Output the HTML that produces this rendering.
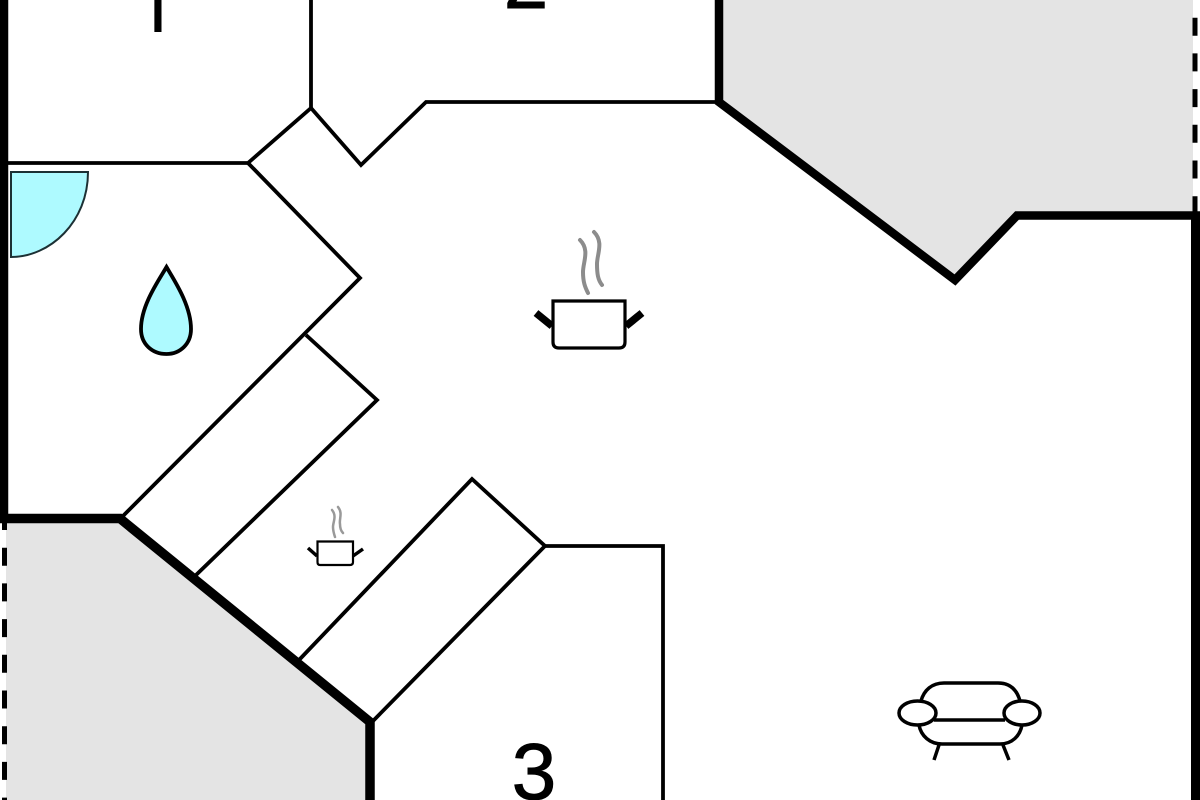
<!DOCTYPE html>
<html>
<head>
<meta charset="utf-8">
<style>
html,body{margin:0;padding:0;background:#fff;width:1200px;height:800px;overflow:hidden}
svg{display:block}
text{font-family:"Liberation Sans",sans-serif;font-size:80px;fill:#000;stroke:#000;stroke-width:1;text-anchor:middle}
</style>
</head>
<body>
<svg width="1200" height="800" viewBox="0 0 1200 800" xmlns="http://www.w3.org/2000/svg">
<rect width="1200" height="800" fill="#fff"/>
<polygon points="719,0 1193,0 1193,215 1017,215 955,280 719,102" fill="#e4e4e4"/>
<polygon points="6,520 120,520 370,722 370,800 6,800" fill="#e4e4e4"/>

<g fill="none" stroke="#000" stroke-width="3.800" stroke-linejoin="miter">
<polyline points="311,0 311,108 248,163 8,163"/>
<polyline points="248,163 360,278 121,518"/>
<polyline points="306,335 377,400 195,576"/>
<polyline points="311,108 361,165 426,102 719,102"/>
<polyline points="299,660 472,479 545,546 372,722"/>
<polyline points="545,546 663,546 663,800"/>
</g>

<g fill="none" stroke="#000" stroke-linejoin="miter">
<path d="M4,0V523" stroke-width="8.500"/>
<path d="M0,518.500H120L370,722V800" stroke-width="9.500"/>
<path d="M719,0V102L955,280L1017,215.500H1200" stroke-width="8.500"/>
<path d="M1195.500,212V800" stroke-width="9"/>
<path d="M4.500,512V800" stroke-width="5" stroke-dasharray="18 17.700"/>
<path d="M1195,-18V212" stroke-width="5" stroke-dasharray="18 17.700"/>
</g>

<path d="M11,172H88C88,222 50,257 11,257Z" fill="#aefaff" stroke="#1c3034" stroke-width="2"/>
<path d="M166.500,267C174,280 191,305 191,329C191,344 180,354 166.500,354C152,354 141,344 141,329C141,305 159,280 166.500,267Z" fill="#aefaff" stroke="#000" stroke-width="3.800"/>

<g fill="none" stroke="#000">
<path d="M553,301H625V342Q625,348 619,348H559Q553,348 553,342Z" fill="#fff" stroke-width="3.200"/>
<path d="M552,326L536,313M626,326L642,313" stroke-width="7.500"/>
</g>
<g fill="none" stroke="#8c8c8c" stroke-width="4" stroke-linecap="round">
<path d="M580,240C590,250 583,262 583,272C583,282 585,287 588,293"/>
<path d="M594,232C604,242 597,254 597,264C597,274 598,280 602,285"/>
</g>

<g fill="none" stroke="#000">
<path d="M317.500,541.500H353V562Q353,565 350,565H320Q317.500,565 317.500,562Z" fill="#fff" stroke-width="2.200"/>
<path d="M317,556L308,548M353,556L363,549" stroke-width="3.500"/>
</g>
<g fill="none" stroke="#999" stroke-width="2.500" stroke-linecap="round">
<path d="M332,510C337,516 333,522 333,527C333,531 334,534 335,537"/>
<path d="M338,507C343,513 339,519 340,524C340,528 341,531 343,533"/>
</g>

<g fill="none" stroke="#000" stroke-width="3.500">
<path d="M921,701C924,690 932,683 944,683H998C1010,683 1017,690 1020,701"/>
<ellipse cx="917.500" cy="713" rx="18.500" ry="12"/>
<ellipse cx="1022" cy="713" rx="18" ry="12"/>
<path d="M934,720H1005"/>
<path d="M919,725C921,736 930,744 942,744H1000C1012,744 1020,736 1022,725"/>
<path d="M939,745L934,760M1003,745L1009,760"/>
</g>

<defs>
<clipPath id="c1"><rect x="153.500" y="-10" width="8" height="42"/></clipPath>
</defs>
<text x="157" y="40" clip-path="url(#c1)">1</text>
<text x="526" y="8">2</text>
<text x="534" y="799">3</text>
</svg>
</body>
</html>
